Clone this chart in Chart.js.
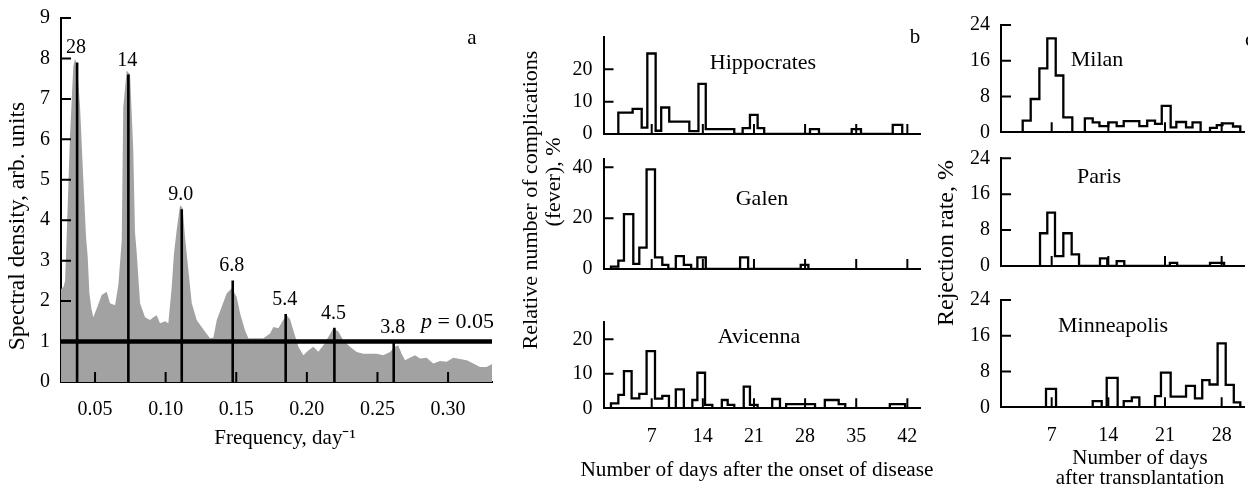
<!DOCTYPE html>
<html>
<head>
<meta charset="utf-8">
<script src="https://cdn.jsdelivr.net/npm/chart.js@4.4.0/dist/chart.umd.min.js"></script>
<style>
  body { margin: 0; background: #fff; width: 1248px; height: 484px; overflow: hidden; position: relative; }
  canvas { position: absolute; top: 0; }
</style>
</head>
<body>
<canvas id="spec"></canvas>
<canvas id="hipp"></canvas>
<canvas id="galen"></canvas>
<canvas id="avic"></canvas>
<canvas id="milan"></canvas>
<canvas id="paris"></canvas>
<canvas id="minn"></canvas>
<script>
const FONT = "'Liberation Serif', serif";
const H = 484;

// ---- panel a: spectral density ----
const freq = [0.0259, 0.0276, 0.0288, 0.0300, 0.0323, 0.0346, 0.0358, 0.0373, 0.0394, 0.0417, 0.0436, 0.0448,
  0.0460, 0.0475, 0.0488, 0.0512, 0.0547, 0.0583, 0.0606, 0.0642, 0.0665, 0.0689, 0.0700, 0.0724, 0.0748,
  0.0771, 0.0783, 0.0795, 0.0819, 0.0854, 0.0889, 0.0913, 0.0937, 0.0960, 0.0996, 0.1019, 0.1043, 0.1059,
  0.1078, 0.1102, 0.1120, 0.1137, 0.1161, 0.1185, 0.1220, 0.1255, 0.1279, 0.1314, 0.1338, 0.1362, 0.1397,
  0.1432, 0.1468, 0.1503, 0.1527, 0.1562, 0.1586, 0.1621, 0.1692, 0.1739, 0.1763, 0.1798, 0.1833, 0.1857,
  0.1881, 0.1904, 0.1940, 0.1975, 0.2010, 0.2046, 0.2081, 0.2116, 0.2152, 0.2187, 0.2223, 0.2258, 0.2305,
  0.2353, 0.2400, 0.2447, 0.2494, 0.2541, 0.2589, 0.2624, 0.2647, 0.2671, 0.2695, 0.2730, 0.2766, 0.2801,
  0.2848, 0.2895, 0.2943, 0.2990, 0.3037, 0.3084, 0.3132, 0.3179, 0.3226, 0.3273, 0.3320, 0.3355];
const density = [2.3, 2.35, 2.5, 3.7, 6.1, 7.8, 8.0, 7.8, 6.8, 5.0, 3.6, 3.1,
  2.2, 1.8, 1.6, 1.82, 2.15, 2.23, 1.95, 1.9, 2.4, 3.5, 6.8, 7.7, 7.6,
  5.7, 3.7, 3.2, 1.95, 1.6, 1.53, 1.6, 1.65, 1.45, 1.5, 1.45, 2.35, 3.18,
  3.75, 4.37, 4.3, 3.6, 2.76, 1.95, 1.53, 1.36, 1.24, 1.08, 1.1, 1.53, 1.86,
  2.19, 2.32, 2.1, 1.7, 1.28, 1.08, 1.08, 1.08, 1.2, 1.36, 1.33, 1.53, 1.65,
  1.55, 1.28, 0.87, 0.66, 0.78, 0.87, 0.75, 0.9, 1.11, 1.32, 1.25, 1.03, 0.87,
  0.74, 0.7, 0.7, 0.7, 0.66, 0.74, 0.87, 0.91, 0.7, 0.54, 0.6, 0.66, 0.58,
  0.6, 0.46, 0.52, 0.5, 0.6, 0.57, 0.54, 0.46, 0.37, 0.37, 0.46, 0.52];
const peakFreq = [0.0373, 0.0736, 0.1114, 0.1475, 0.1850, 0.2195, 0.2615];
const peakHeight = [7.9, 7.6, 4.27, 2.51, 1.68, 1.34, 1.0];
const peakPeriod = ['28', '14', '9.0', '6.8', '5.4', '4.5', '3.8'];
const pLevel = 1.0;
const freqRange = [0.0259, 0.3311];
const freqTicks = [0.05, 0.10, 0.15, 0.20, 0.25, 0.30];
const densTicks = [0, 1, 2, 3, 4, 5, 6, 7, 8, 9];

// ---- panel b: complications after onset of disease ----
const dayTicksB = [7, 14, 21, 28, 35, 42];
const hippEdges = [2.43, 4.39, 5.63, 6.4, 7.54, 8.3, 9.4, 12.15, 13.4, 14.4, 18.3, 19.45, 20.45, 21.5, 22.4,
  28.67, 29.9, 34.38, 35.65, 40.0, 41.3];
const hippValues = [6.6, 7.8, 2.0, 24.9, 1.0, 8.2, 3.8, 0.9, 15.5, 1.5, 0, 1.8, 5.9, 1.8, 0, 1.5, 0, 1.5, 0, 2.8];
const galenEdges = [1.42, 2.43, 3.2, 4.48, 5.3, 6.3, 7.45, 8.45, 9.27, 10.3, 11.4, 12.4, 13.25, 14.4, 19.1, 20.2,
  27.4, 28.45];
const galenValues = [0.9, 3.3, 21.6, 2.0, 8.4, 39.2, 4.6, 1.6, 0, 5.1, 1.6, 0, 4.6, 0, 4.6, 0, 1.6];
const avicEdges = [1.42, 2.43, 3.2, 4.25, 5.3, 6.3, 7.45, 8.45, 9.36, 10.3, 11.4, 12.56, 13.25, 14.3, 15.3,
  16.6, 17.4, 18.3, 19.6, 20.45, 21.5, 23.5, 24.56, 25.4, 29.36, 30.7, 32.6, 33.5, 39.6, 41.7];
const avicValues = [1.45, 3.9, 10.8, 2.9, 4.2, 16.6, 2.8, 3.6, 0, 5.5, 0, 2.4, 10.3, 1.0, 0, 2.4, 1.0, 0, 6.3,
  1.0, 0, 2.7, 0, 1.2, 0, 2.4, 1.2, 0, 1.2];

// ---- panel c: rejection after transplantation ----
const dayTicksC = [7, 14, 21, 28];
const rejTicks = [0, 8, 16, 24];
const milanEdges = [3.42, 4.41, 5.48, 6.46, 7.5, 8.44, 9.55, 11.1, 12.07, 12.9, 14.0, 15.03, 15.9, 17.83, 18.8,
  19.77, 20.6, 21.7, 22.4, 23.6, 24.4, 25.4, 26.56, 27.4, 28.1, 29.4, 30.3];
const milanValues = [2.6, 7.45, 14.3, 21.0, 12.7, 3.35, 0, 3.1, 2.2, 1.4, 2.2, 1.4, 2.5, 1.4, 2.6, 1.9, 5.9,
  1.1, 2.3, 1.1, 2.2, 0, 1.0, 1.6, 2.0, 1.3];
const parisEdges = [5.56, 6.46, 7.41, 8.44, 9.47, 10.38, 12.97, 13.87, 15.03, 15.97, 21.6, 22.5, 26.56, 28.3];
const parisValues = [7.3, 11.9, 2.2, 7.3, 2.6, 0, 1.7, 0, 1.1, 0, 0.7, 0, 0.7];
const minnEdges = [6.3, 7.54, 12.07, 13.18, 13.8, 15.15, 15.9, 16.9, 17.83, 19.77, 20.5, 21.7, 23.6, 24.7, 25.6,
  26.5, 27.5, 28.5, 29.5, 30.3];
const minnValues = [4.1, 0, 1.4, 0, 6.6, 0, 1.4, 2.2, 0, 2.5, 7.75, 2.4, 4.8, 2.0, 6.1, 5.1, 14.3, 5.0, 1.1];

// histogram outline as corner points
function outline(edges, values) {
  const pts = [{ x: edges[0], y: 0 }];
  values.forEach((v, i) => {
    pts.push({ x: edges[i], y: v }, { x: edges[i + 1], y: v });
  });
  pts.push({ x: edges[edges.length - 1], y: 0 });
  return pts;
}

// short ticks pointing into the plot
const innerTicks = {
  id: 'innerTicks',
  afterDatasetsDraw(chart, args, o) {
    const { ctx, chartArea: ca, scales } = chart;
    ctx.save();
    ctx.strokeStyle = '#000';
    ctx.lineWidth = 2;
    ctx.beginPath();
    (o.x || []).forEach(v => {
      const px = scales.x.getPixelForValue(v);
      ctx.moveTo(px, ca.bottom);
      ctx.lineTo(px, ca.bottom - o.len);
    });
    (o.y || []).forEach(v => {
      const py = scales.y.getPixelForValue(v);
      ctx.moveTo(ca.left, py);
      ctx.lineTo(ca.left + o.len, py);
    });
    ctx.stroke();
    ctx.restore();
  }
};

// free text (page coordinates, shifted by canvas offset)
const texts = {
  id: 'texts',
  afterDraw(chart, args, o) {
    const ctx = chart.ctx;
    ctx.save();
    ctx.fillStyle = '#000';
    ctx.textBaseline = 'middle';
    (o.items || []).forEach(it => {
      const x = it.x - o.off;
      ctx.save();
      ctx.translate(x, it.y);
      if (it.rot) ctx.rotate(-Math.PI / 2);
      const parts = it.parts || [{ t: it.t }];
      ctx.textAlign = 'left';
      let total = 0;
      parts.forEach(p => {
        ctx.font = `${p.italic ? 'italic ' : ''}${it.size}px ${FONT}`;
        p.w = ctx.measureText(p.t).width;
        total += p.w;
      });
      let cx = it.align === 'left' ? 0 : -total / 2;
      parts.forEach(p => {
        ctx.font = `${p.italic ? 'italic ' : ''}${it.size}px ${FONT}`;
        ctx.fillText(p.t, cx, 0);
        cx += p.w;
      });
      ctx.restore();
    });
    ctx.restore();
  }
};

const peakLabels = {
  id: 'peakLabels',
  afterDatasetsDraw(chart) {
    const { ctx, scales: { x, y } } = chart;
    ctx.save();
    ctx.font = `20px ${FONT}`;
    ctx.fillStyle = '#000';
    ctx.textAlign = 'center';
    ctx.textBaseline = 'alphabetic';
    peakPeriod.forEach((t, i) => {
      ctx.fillText(t, x.getPixelForValue(peakFreq[i]) - 1, y.getPixelForValue(peakHeight[i]) - 9);
    });
    ctx.restore();
  }
};

function panel(p) {
  const cv = document.getElementById(p.id);
  cv.width = p.cw;
  cv.height = H;
  cv.style.left = p.cx + 'px';
  cv.style.width = p.cw + 'px';
  cv.style.height = H + 'px';
  const tickFont = { family: FONT, size: 20 };
  return new Chart(cv, {
    type: 'line',
    data: { datasets: p.datasets },
    plugins: [innerTicks, texts].concat(p.extra || []),
    options: {
      responsive: false,
      animation: false,
      devicePixelRatio: 1,
      layout: { padding: { left: 0, top: p.box.t, right: p.cx + p.cw - p.box.r, bottom: 0 } },
      elements: { point: { radius: 0 }, line: { tension: 0 } },
      plugins: {
        legend: { display: false },
        tooltip: { enabled: false },
        innerTicks: { x: p.innerX, y: p.innerY, len: 10 },
        texts: { items: p.texts || [], off: p.cx }
      },
      scales: {
        x: {
          type: 'linear', min: p.xr[0], max: p.xr[1],
          grid: { display: true, drawOnChartArea: false, drawTicks: false },
          border: { display: true, color: '#000', width: 2 },
          ticks: {
            display: !!p.xLabels, color: '#000', font: tickFont, padding: 16, maxRotation: 0,
            autoSkip: false, callback: p.xFmt || (v => v)
          },
          afterBuildTicks: s => { s.ticks = p.xTicks.map(v => ({ value: v })); },
          afterFit: s => { s.height = H - p.box.b; s.paddingLeft = 0; s.paddingRight = 0; }
        },
        y: {
          type: 'linear', min: p.yr[0], max: p.yr[1],
          grid: { display: true, drawOnChartArea: false, drawTicks: false },
          border: { display: true, color: '#000', width: 2 },
          ticks: { color: '#000', font: tickFont, padding: 11, autoSkip: false, callback: v => v },
          afterBuildTicks: s => { s.ticks = p.yTicks.map(v => ({ value: v })); },
          afterFit: s => { s.width = p.box.l - p.cx; s.paddingTop = 0; s.paddingBottom = 0; }
        }
      }
    }
  });
}

function hist(edges, values) {
  return { data: outline(edges, values), borderColor: '#000', borderWidth: 2.3, fill: false };
}

// panel a
const peakPts = [];
peakFreq.forEach((f, i) => { peakPts.push({ x: f, y: 0 }, { x: f, y: peakHeight[i] }, { x: f, y: null }); });
panel({
  id: 'spec', cx: 0, cw: 500,
  box: { l: 61, t: 18, r: 492, b: 382 },
  xr: freqRange, yr: [0, 9],
  xTicks: freqTicks, xLabels: true, xFmt: v => v.toFixed(2),
  yTicks: densTicks,
  innerX: freqTicks, innerY: densTicks.slice(1),
  extra: [peakLabels],
  datasets: [
    { data: [{ x: freqRange[0], y: pLevel }, { x: freqRange[1], y: pLevel }], borderColor: '#000', borderWidth: 4.5, order: 1 },
    { data: peakPts, borderColor: '#000', borderWidth: 2.6, spanGaps: false, order: 2 },
    { data: freq.map((f, i) => ({ x: f, y: density[i] })), borderWidth: 0, borderColor: 'rgba(0,0,0,0)',
      backgroundColor: '#a2a2a2', fill: 'origin', clip: false, order: 3 }
  ],
  texts: [
    { t: 'Spectral density, arb. units', x: 18, y: 226, size: 23.5, rot: true },
    { t: 'Frequency, day⁻¹', x: 285, y: 438, size: 21 },
    { t: 'a', x: 472, y: 38, size: 21 },
    { parts: [{ t: 'p', italic: true }, { t: ' = 0.05' }], x: 421, y: 322, size: 22, align: 'left' }
  ]
});

// panel b
const bBox = { l: 603.5, r: 920.5 };
const bRange = [0.4, 43.8];
const bCanvas = { cx: 500, cw: 442 };
panel({
  id: 'hipp', ...bCanvas,
  box: { ...bBox, t: 37, b: 134 }, xr: bRange, yr: [0, 30],
  xTicks: dayTicksB, xLabels: false, yTicks: [0, 10, 20],
  innerX: dayTicksB, innerY: [10, 20],
  datasets: [hist(hippEdges, hippValues)],
  texts: [
    { t: 'Hippocrates', x: 763, y: 63, size: 22 },
    { t: 'b', x: 915, y: 37, size: 21 }
  ]
});
panel({
  id: 'galen', ...bCanvas,
  box: { ...bBox, t: 159.4, b: 269 }, xr: bRange, yr: [0, 43.1],
  xTicks: dayTicksB, xLabels: false, yTicks: [0, 20, 40],
  innerX: dayTicksB, innerY: [20, 40],
  datasets: [hist(galenEdges, galenValues)],
  texts: [
    { t: 'Galen', x: 762, y: 199, size: 22 },
    { t: 'Relative number of complications', x: 531, y: 200, size: 22, rot: true },
    { t: '(fever), %', x: 554, y: 182, size: 22, rot: true }
  ]
});
panel({
  id: 'avic', ...bCanvas,
  box: { ...bBox, t: 321.7, b: 408.3 }, xr: bRange, yr: [0, 25.1],
  xTicks: dayTicksB, xLabels: true, yTicks: [0, 10, 20],
  innerX: dayTicksB, innerY: [10, 20],
  datasets: [hist(avicEdges, avicValues)],
  texts: [
    { t: 'Avicenna', x: 759, y: 337, size: 22 },
    { t: 'Number of days after the onset of disease', x: 757, y: 470, size: 21.3 }
  ]
});

// panel c
const cBox = { l: 1001, r: 1244 };
const cRange = [0.74, 30.76];
const cCanvas = { cx: 935, cw: 313 };
panel({
  id: 'milan', ...cCanvas,
  box: { ...cBox, t: 25, b: 132.3 }, xr: cRange, yr: [0, 24],
  xTicks: dayTicksC, xLabels: false, yTicks: rejTicks,
  innerX: dayTicksC, innerY: rejTicks.slice(1),
  datasets: [hist(milanEdges, milanValues)],
  texts: [
    { t: 'Milan', x: 1097, y: 60, size: 22 },
    { t: 'c', x: 1245, y: 40, size: 21, align: 'left' }
  ]
});
panel({
  id: 'paris', ...cCanvas,
  box: { ...cBox, t: 158.3, b: 266 }, xr: cRange, yr: [0, 24],
  xTicks: dayTicksC, xLabels: false, yTicks: rejTicks,
  innerX: dayTicksC, innerY: rejTicks.slice(1),
  datasets: [hist(parisEdges, parisValues)],
  texts: [
    { t: 'Paris', x: 1099, y: 177, size: 22 },
    { t: 'Rejection rate, %', x: 947, y: 243, size: 24, rot: true }
  ]
});
panel({
  id: 'minn', ...cCanvas,
  box: { ...cBox, t: 300, b: 407.3 }, xr: cRange, yr: [0, 24],
  xTicks: dayTicksC, xLabels: true, yTicks: rejTicks,
  innerX: dayTicksC, innerY: rejTicks.slice(1),
  datasets: [hist(minnEdges, minnValues)],
  texts: [
    { t: 'Minneapolis', x: 1113, y: 326, size: 22 },
    { t: 'Number of days', x: 1140, y: 458, size: 21 },
    { t: 'after transplantation', x: 1140, y: 478, size: 21 }
  ]
});
</script>
</body>
</html>
